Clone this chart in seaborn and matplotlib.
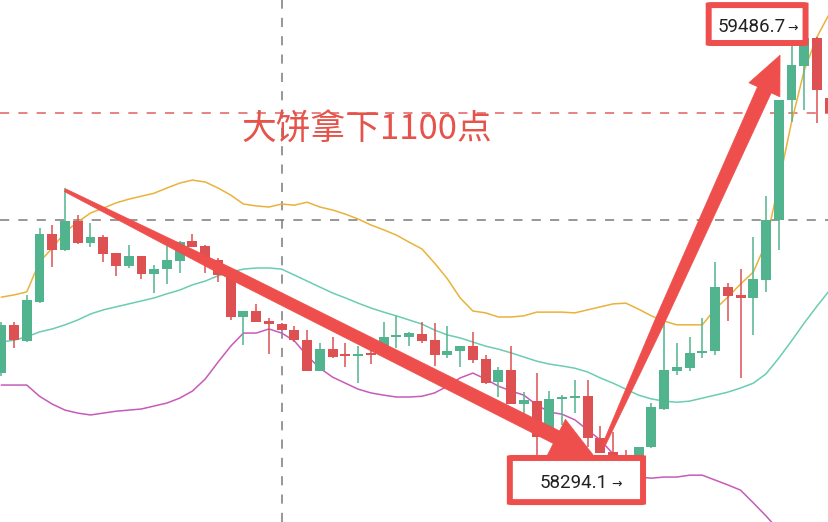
import numpy as np
import pandas as pd
import matplotlib
matplotlib.use("Agg")
import matplotlib.pyplot as plt
import seaborn as sns
from matplotlib.patches import FancyBboxPatch, Polygon

# ---------------- data ----------------
opens = [58588, 58717, 58674, 58778, 58960, 58917, 58995, 58936, 58952, 58909,
         58874, 58901, 58853, 58866, 58888, 58941, 58928, 58890, 58850, 58738,
         58754, 58727, 58719, 58703, 58676, 58594, 58652, 58639, 58634, 58642,
         58642, 58685, 58685, 58692, 58676, 58637, 58647, 58660, 58626, 58564,
         58596, 58505, 58513, 58417, 58519, 58521, 58526, 58414, 58377, 58366,
         58329, 58390, 58492, 58594, 58601, 58642, 58647, 58818, 58797, 58789,
         58837, 58997, 59318, 59409, 59484, 59323]
highs = [58725, 58725, 58797, 58976, 58984, 59083, 59011, 58989, 58957, 58910,
         58930, 58902, 58877, 58928, 58940, 58960, 58930, 58896, 58852, 58755,
         58773, 58735, 58722, 58714, 58703, 58668, 58685, 58668, 58660, 58685,
         58725, 58741, 58698, 58725, 58722, 58714, 58661, 58698, 58637, 58604,
         58660, 58537, 58588, 58540, 58529, 58570, 58570, 58446, 58430, 58382,
         58391, 58508, 58741, 58668, 58685, 58735, 58885, 58829, 58866, 58952,
         59061, 59319, 59465, 59485, 59486.7, 59330]
lows = [58580, 58655, 58672, 58775, 58872, 58915, 58933, 58925, 58885, 58848,
        58869, 58840, 58802, 58826, 58856, 58924, 58856, 58832, 58730, 58663,
        58724, 58639, 58702, 58671, 58593, 58593, 58628, 58604, 58561, 58612,
        58641, 58655, 58660, 58668, 58607, 58628, 58604, 58615, 58560, 58524,
        58504, 58457, 58361, 58416, 58449, 58481, 58390, 58373, 58356, 58294.1,
        58328, 58389, 58490, 58583, 58594, 58628, 58637, 58727, 58575, 58690,
        58805, 58917, 59259, 59291, 59256, 59270]
closes = [58717, 58676, 58783, 58960, 58917, 58995, 58936, 58952, 58906, 58874,
          58901, 58853, 58866, 58890, 58938, 58925, 58888, 58850, 58738, 58754,
          58725, 58719, 58703, 58676, 58594, 58652, 58631, 58634, 58639, 58637,
          58685, 58690, 58695, 58674, 58637, 58647, 58660, 58623, 58561, 58596,
          58505, 58516, 58417, 58519, 58521, 58526, 58414, 58374, 58366, 58329,
          58390, 58497, 58596, 58604, 58642, 58647, 58818, 58794, 58789, 58840,
          58997, 59318, 59412, 59484, 59345, 59283]
upper = [58791, 58797, 58805, 58885, 58922, 58965, 58992, 59016, 59029, 59043,
         59053, 59061, 59069, 59083, 59096, 59104, 59099, 59083, 59064, 59040,
         59035, 59032, 59040, 59037, 59045, 59032, 59024, 59013, 59000, 58984,
         58971, 58957, 58938, 58920, 58882, 58840, 58789, 58754, 58749, 58738,
         58738, 58741, 58751, 58751, 58751, 58749, 58757, 58765, 58773, 58775,
         58759, 58741, 58727, 58717, 58717, 58717, 58759, 58791, 58826, 58858,
         58936, 59096, 59259, 59398, 59487, 59551]
middle = [58671, 58676, 58685, 58698, 58706, 58717, 58730, 58746, 58757, 58765,
          58773, 58781, 58789, 58800, 58810, 58824, 58834, 58848, 58858, 58866,
          58869, 58869, 58866, 58850, 58834, 58818, 58802, 58789, 58775, 58762,
          58751, 58741, 58730, 58719, 58703, 58690, 58682, 58671, 58660, 58652,
          58642, 58631, 58620, 58612, 58607, 58601, 58591, 58575, 58561, 58545,
          58529, 58519, 58513, 58510, 58513, 58521, 58529, 58537, 58548, 58561,
          58586, 58628, 58674, 58722, 58767, 58810]
lower = [58556, 58556, 58556, 58526, 58505, 58489, 58481, 58476, 58481, 58486,
         58489, 58492, 58500, 58508, 58521, 58540, 58572, 58617, 58660, 58695,
         58695, 58706, 58695, 58674, 58634, 58601, 58577, 58561, 58545, 58535,
         58529, 58524, 58524, 58526, 58535, 58553, 58575, 58588, 58572, 58553,
         58540, 58529, 58503, 58484, 58478, 58463, 58436, 58409, 58372, 58339,
         58310, 58307, 58310, 58310, 58315, 58315, 58302, 58289, 58275, 58241,
         58206, 58168, 58128, 58088, 58048, 58008]

low_label = "58294.1"
high_label = "59486.7"
headline = "大饼拿下1100点"
red_level = 59283.5
gray_level = 58997.3
cross_index = 22

# ---------------- style ----------------
sns.set_style("white")
plt.rcParams["font.family"] = ["Noto Sans CJK SC", "DejaVu Sans"]

GREEN = "#52B48E"
RED = "#DD5153"
ANNOT = "#EE4E4C"

fig = plt.figure(figsize=(8.29, 5.22), dpi=100)
ax = fig.add_axes([0, 0, 1, 1])
ax.set_xlim(-0.1, 64.94)
ax.set_ylim(58189.8, 59585.6)

n = len(opens)
idx = np.arange(n)
o = np.array(opens, float)
c = np.array(closes, float)
h = np.array(highs, float)
l = np.array(lows, float)

# Bollinger bands via seaborn
bands = pd.DataFrame({
    "i": np.tile(idx, 3),
    "v": np.concatenate([upper, middle, lower]),
    "band": ["upper"] * n + ["middle"] * n + ["lower"] * n,
})
sns.lineplot(data=bands, x="i", y="v", hue="band",
             palette={"upper": "#EBB23A", "middle": "#6ACDB3", "lower": "#C65BB9"},
             linewidth=1.1, legend=False, ax=ax, zorder=2)

# candles
colors = np.where(c >= o, GREEN, RED)
ax.vlines(idx, l, h, colors=colors, linewidth=1.1, zorder=3)
body_h = np.maximum(np.abs(c - o), 5.0)
ax.bar(idx, body_h, bottom=np.minimum(o, c), width=0.78, color=colors,
       linewidth=0, zorder=4)

# reference lines
ax.axhline(red_level, color="#E06060", lw=1.1, dashes=(6, 6), zorder=1)
ax.axhline(gray_level, color="#7A7A7A", lw=1.1, dashes=(6, 6), zorder=1)
ax.axvline(cross_index, color="#7A7A7A", lw=1.1, dashes=(6, 6), zorder=1)


def tapered_arrow(start, tip, w0, wmid, w1, head_len, head_w):
    """Arrow whose shaft widens from w0 via wmid (at 35%) to w1 (pixels), with a triangular head."""
    S = ax.transData.transform(start)
    T = ax.transData.transform(tip)
    u = (T - S) / np.hypot(*(T - S))
    nv = np.array([-u[1], u[0]])
    B = T - u * head_len
    M = S + (B - S) * 0.35
    pts = [S + nv * w0 / 2, M + nv * wmid / 2, B + nv * w1 / 2, B + nv * head_w / 2, T,
           B - nv * head_w / 2, B - nv * w1 / 2, M - nv * wmid / 2, S - nv * w0 / 2]
    ax.add_patch(Polygon(pts, closed=True, transform=None, fc=ANNOT,
                         ec=ANNOT, lw=0.5, zorder=6))


tapered_arrow((5, 59077), (46.5, 58366), 3, 11, 14, 42, 40)
tapered_arrow((47.2, 58390), (61.1, 59438), 3, 10, 15, 38, 34)

# label boxes
for (x0, x1, y0, y1) in [(39.9, 50.35, 58243, 58361), (55.5, 63.1, 59470.6, 59572)]:
    ax.add_patch(FancyBboxPatch((x0, y0), x1 - x0, y1 - y0,
                                boxstyle="round,pad=0,rounding_size=0.25",
                                mutation_aspect=2.7 / 12.75 * 10,
                                fc="white", ec=ANNOT, lw=4.3, zorder=7))

num_font = ["Roboto", "DejaVu Sans"]
ax.text(44.9, 58294.1, low_label, ha="center", va="center", fontsize=13.5,
        color="#222222", family=num_font, zorder=8)
ax.text(48.3, 58290, "→", ha="center", va="center", fontsize=9,
        color="#222222", family=["DejaVu Sans"], zorder=8)
ax.text(58.9, 59513, high_label, ha="center", va="center", fontsize=13.5,
        color="#222222", family=num_font, zorder=8)
ax.text(62.1, 59510, "→", ha="center", va="center", fontsize=9,
        color="#222222", family=["DejaVu Sans"], zorder=8)

# headline
ax.text(28.7, 59238, headline, ha="center", va="center", fontsize=25,
        color="#E5534B", family=["Noto Sans CJK SC", "DejaVu Sans"], zorder=8)

ax.set_axis_off()
fig.savefig("out.png", dpi=100)
